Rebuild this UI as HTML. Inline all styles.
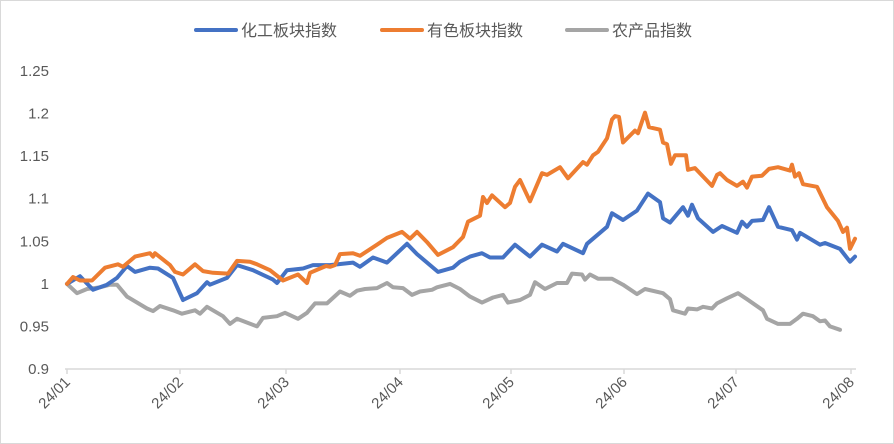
<!DOCTYPE html>
<html><head><meta charset="utf-8"><style>
html,body{margin:0;padding:0;background:#fff;}
svg{display:block;font-family:"Liberation Sans","Noto Sans CJK SC",sans-serif;}
</style></head><body>
<svg id="chart" width="894" height="444" viewBox="0 0 894 444">
<rect x="0.5" y="0.5" width="893" height="443" fill="#fff" stroke="#d9d9d9"/>
<g id="legend"></g>
<g id="yaxis"></g>
<g id="xaxis"></g>
<g id="series"></g>
</svg>
<script>
const yTicks=[0.9,0.95,1,1.05,1.1,1.15,1.2,1.25];
const yTickLabels=["0.9","0.95","1","1.05","1.1","1.15","1.2","1.25"];
const monthDays=[0,22.6,43.8,66.6,88.8,111.4,133.8,156.8];
const monthLabels=["24/01","24/02","24/03","24/04","24/05","24/06","24/07","24/08"];
const seriesNames=["化工板块指数","有色板块指数","农产品指数"];
const chemDays=[0,2.6,5.2,8,10,12,13.6,16.6,18.2,21.2,23.2,26,28,28.6,32,34,37.2,41.2,42,44,47.2,49.2,52.6,57.2,58.6,61.2,64,68,70,74.2,77.2,78.6,80.6,83,84.6,87.2,89.6,92.6,95,98,99.2,103.2,104,108,109,111.2,114,116.2,118.6,119.2,120.6,123.2,124.2,125,126.2,129.2,131,134,135,136,137,139.2,140.4,142.2,145,146,146.6,150.6,151.6,154.6,156.6,157.6];
const chemValues=[1.0,1.009,0.993,0.999,1.007,1.021,1.014,1.019,1.018,1.007,0.981,0.989,1.002,0.999,1.007,1.022,1.016,1.005,1.001,1.016,1.018,1.022,1.022,1.025,1.020,1.031,1.025,1.047,1.035,1.014,1.019,1.026,1.032,1.036,1.031,1.031,1.046,1.032,1.046,1.038,1.047,1.036,1.047,1.067,1.083,1.075,1.086,1.106,1.096,1.077,1.072,1.090,1.080,1.093,1.077,1.061,1.068,1.060,1.073,1.067,1.074,1.075,1.090,1.067,1.063,1.052,1.060,1.046,1.048,1.041,1.026,1.032];
const metalDays=[0,1.2,2.6,5,7.6,10.2,11.2,13.6,16.6,17.2,17.6,20.6,21.6,23.2,25.6,27.2,29.2,32.2,34,36.6,38,40.6,43.2,46.2,48,48.6,51.8,52.6,53.6,54.6,57.2,58.6,62,64,67,68.6,70,72,74.2,77.2,79.2,80.2,82.6,83.2,84,85,87.6,88.6,89.6,90.6,92.6,95,96,98.6,100.2,103.2,104,105.2,106.2,108,109,109.6,110.4,111.2,113.6,114.2,115.6,116.4,118.6,119.2,120,120.8,121.6,123.8,124.2,125.6,129,130,130.6,132,134,135.2,136,137,139,140.4,142.2,144.6,145,145.6,146.4,147.2,150,152,154.2,155.2,156,156.6,157.6];
const metalValues=[1.0,1.008,1.004,1.004,1.019,1.023,1.020,1.032,1.036,1.032,1.036,1.022,1.014,1.011,1.023,1.015,1.013,1.012,1.027,1.026,1.023,1.016,1.004,1.011,1.001,1.013,1.021,1.020,1.022,1.035,1.036,1.033,1.046,1.054,1.061,1.053,1.061,1.049,1.034,1.043,1.055,1.073,1.080,1.102,1.095,1.104,1.090,1.095,1.114,1.122,1.097,1.130,1.128,1.137,1.124,1.143,1.140,1.151,1.155,1.171,1.193,1.197,1.196,1.166,1.180,1.177,1.201,1.184,1.181,1.166,1.164,1.141,1.151,1.151,1.134,1.136,1.115,1.128,1.130,1.122,1.115,1.120,1.113,1.126,1.127,1.135,1.137,1.133,1.140,1.126,1.130,1.117,1.114,1.090,1.074,1.061,1.066,1.041,1.053];
const agriDays=[0,2,4,6.6,8.6,10,12,16,17.2,18.6,21.2,23,25.6,26.6,28,31.2,32.6,34,38,39.2,42,43.6,46.2,48,49.6,52,54.6,56.6,58,59.6,62,64,65.2,67.2,69,70.6,73,74,76.6,78.6,80.6,83,85.2,87.2,88.2,90.6,92.6,93.6,95.6,98,100,101,103,103.6,104.6,106.2,109,111.2,114,115.6,119.2,120.6,121.2,123.6,124.2,126,127.2,129,130,132,134.2,136,139.2,140,142.2,144.6,146,147.2,149.2,150.6,151.6,152.6,154.6];
const agriValues=[1.0,0.989,0.994,0.996,0.999,0.999,0.985,0.971,0.968,0.974,0.969,0.965,0.969,0.965,0.973,0.962,0.953,0.959,0.950,0.960,0.962,0.966,0.959,0.966,0.977,0.977,0.991,0.986,0.992,0.994,0.995,1.001,0.996,0.995,0.987,0.991,0.993,0.996,1.0,0.994,0.985,0.978,0.984,0.987,0.978,0.981,0.987,1.002,0.994,1.001,1.001,1.012,1.011,1.005,1.011,1.006,1.006,0.999,0.988,0.994,0.989,0.982,0.969,0.965,0.971,0.970,0.973,0.971,0.977,0.983,0.989,0.982,0.969,0.959,0.953,0.953,0.959,0.965,0.962,0.956,0.957,0.950,0.946];
const colors=["#4472c4","#ed7d31","#a5a5a5"];

const NS="http://www.w3.org/2000/svg";
const X0=67,XPX=5,YB=369,YT=71,VMIN=0.9,VMAX=1.25;
function xs(d){return X0+d*XPX;}
function ys(v){return YB-(v-VMIN)/(VMAX-VMIN)*(YB-YT);}
function mk(tag,attrs,parent){const e=document.createElementNS(NS,tag);for(const k in attrs)e.setAttribute(k,attrs[k]);parent.appendChild(e);return e;}
const yaxis=document.getElementById('yaxis');
yTicks.forEach((v,i)=>{
  const t=mk('text',{x:49,y:ys(v)+5,'text-anchor':'end','font-size':15,fill:'#595959'},yaxis);
  
  
  t.textContent=yTickLabels[i];
});
const xaxis=document.getElementById('xaxis');
const ax=mk('line',{x1:65,x2:856,y1:YB,y2:YB,stroke:'#d9d9d9','stroke-width':1.5},xaxis);


monthDays.forEach((d,i)=>{
  const x=xs(d);
  const tk=mk('line',{x1:x,x2:x,y1:YB,y2:YB+5,stroke:'#d9d9d9','stroke-width':1.5},xaxis);
  
  
  const t=mk('text',{x:x+4,y:YB+14,'text-anchor':'end','font-size':15,fill:'#595959',transform:`rotate(-45 ${x+4} ${YB+14})`},xaxis);
  
  
  t.textContent=monthLabels[i];
});
const sg=document.getElementById('series');
const all=[[chemDays,chemValues],[metalDays,metalValues],[agriDays,agriValues]];
const snames=['chemical-index-line','nonferrous-index-line','agri-index-line'];
[2,0,1].forEach(k=>{
  const [ds,vs]=all[k];
  const pts=ds.map((d,i)=>xs(d).toFixed(1)+','+ys(vs[i]).toFixed(1)).join(' ');
  const p=mk('polyline',{points:pts,fill:'none',stroke:colors[k],'stroke-width':4,'stroke-linejoin':'round','stroke-linecap':'round'},sg);
  
  
});
const lg=document.getElementById('legend');
const lx=[196,382,567];
seriesNames.forEach((n,i)=>{
  const g=mk('g',{},lg);
  
  
  mk('line',{x1:lx[i],x2:lx[i]+40,y1:30,y2:30,stroke:colors[i],'stroke-width':4,'stroke-linecap':'round'},g);
  const t=mk('text',{x:lx[i]+45,y:36,'font-size':16,fill:'#595959'},g);
  t.textContent=n;
});
</script>
</body></html>
